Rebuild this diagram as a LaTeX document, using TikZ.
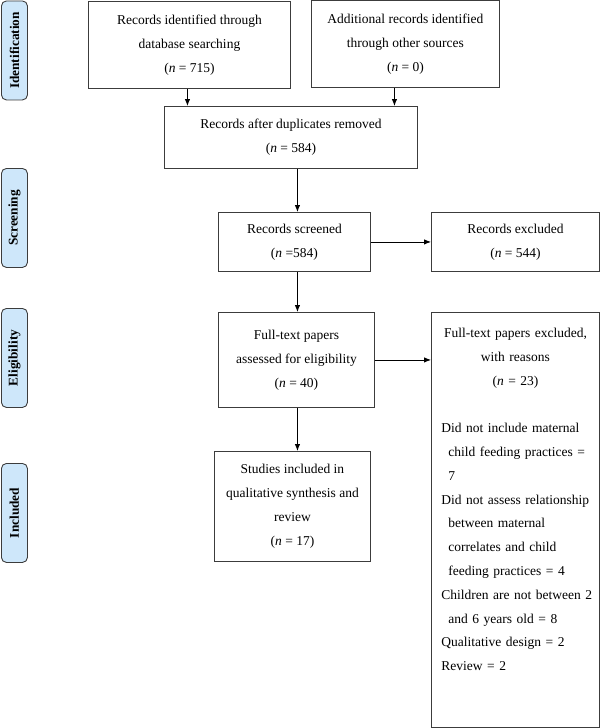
\documentclass[tikz,border=0pt]{standalone}
\usepackage{fontspec}
\setmainfont{Liberation Serif}
\usetikzlibrary{arrows.meta}
\definecolor{edge}{RGB}{60,60,60}
\definecolor{phasefill}{RGB}{206,231,250}
\tikzset{
  box/.style={draw=edge, line width=0.9pt, anchor=north west, align=center, inner sep=2pt,
    font=\fontsize{13.5}{24}\selectfont},
  phase/.style={draw=edge, fill=phasefill, rounded corners=5pt, line width=0.9pt, anchor=north west,
    inner sep=0pt, minimum width=26pt, minimum height=99pt},
  phasetext/.style={rotate=90, font=\fontsize{13.3}{15}\selectfont\bfseries},
  arr/.style={draw=black, line width=0.9pt, -{Latex[length=7pt,width=5.5pt]}}
}
\begin{document}
\begin{tikzpicture}[x=1pt,y=-1pt]
\useasboundingbox (0,0) rectangle (600,728);
% phase labels
\node[phase] (ph1) at (1,0.5) {};
\node[phasetext] at (ph1.center) {Identification};
\node[phase] (ph2) at (1,168) {};
\node[phasetext] at (ph2.center) {Screening};
\node[phase] (ph3) at (1,308) {};
\node[phasetext] at (ph3.center) {Eligibility};
\node[phase] (ph4) at (1,463) {};
\node[phasetext] at (ph4.center) {Included};
% boxes
\node[box, minimum width=202pt, minimum height=87pt] (b1) at (88,1)
  {Records identified through\\database searching\\(\textit{n} = 715)};
\node[box, minimum width=188pt, minimum height=87pt] (b2) at (311,0)
  {Additional records identified\\through other sources\\(\textit{n} = 0)};
\node[box, minimum width=253pt, minimum height=62pt] (b3) at (164,106)
  {Records after duplicates removed\\(\textit{n} = 584)};
\node[box, minimum width=152pt, minimum height=59pt] (scr) at (218,212)
  {Records screened\\(\textit{n} =584)};
\node[box, minimum width=168pt, minimum height=59pt] (exc1) at (431,212)
  {Records excluded\\(\textit{n} = 544)};
\node[box, minimum width=156pt, minimum height=95pt] (elig) at (218,312)
  {Full-text papers\\assessed for eligibility\\(\textit{n} = 40)};
\node[box, minimum width=168pt, minimum height=415pt] (exc2) at (431,312) {};
\node[anchor=north, text width=168pt, inner sep=0pt, font=\fontsize{13.5}{23.8}\selectfont]
  (exc2txt) at ([yshift=-16pt]exc2.north)
  {\centering Full-text papers excluded,\\ with reasons\\ (\textit{n} = 23)\\[23.8pt]
   \raggedright
   \hspace*{10pt}Did not include maternal\\
   \hspace*{17pt}child feeding practices =\\
   \hspace*{17pt}7\\
   \hspace*{10pt}Did not assess relationship\\
   \hspace*{17pt}between maternal\\
   \hspace*{17pt}correlates and child\\
   \hspace*{17pt}feeding practices = 4\\
   \hspace*{10pt}Children are not between 2\\
   \hspace*{17pt}and 6 years old = 8\\
   \hspace*{10pt}Qualitative design = 2\\
   \hspace*{10pt}Review = 2\par};
\node[box, minimum width=156pt, minimum height=110pt] (inc) at (214,451)
  {Studies included in\\qualitative synthesis and\\review\\(\textit{n} = 17)};
% connectors
\draw[arr] ([xshift=-2pt]b1.south) -- ([xshift=-2pt]b1.south |- b3.north);
\draw[arr] ([xshift=-11pt]b2.south) -- ([xshift=-11pt]b2.south |- b3.north);
\draw[arr] ([xshift=6.5pt]b3.south) -- ([xshift=6.5pt]b3.south |- scr.north);
\draw[arr] ([xshift=3pt]scr.south) -- ([xshift=3pt]scr.south |- elig.north);
\draw[arr] ([xshift=1pt]elig.south) -- ([xshift=1pt]elig.south |- inc.north);
\draw[arr] (scr.east) -- (scr.east -| exc1.west);
\draw[arr] (elig.east) -- (elig.east -| exc2.west);
\end{tikzpicture}
\end{document}
